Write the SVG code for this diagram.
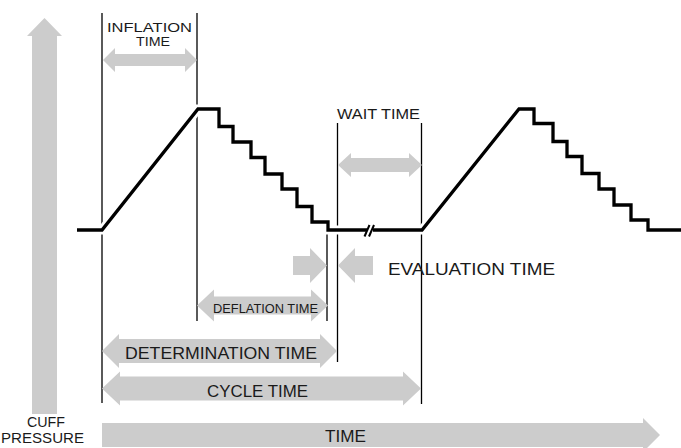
<svg xmlns="http://www.w3.org/2000/svg" width="681" height="448" viewBox="0 0 681 448">
<style>
.bar{fill:#cccccc;stroke:none}
.vl{stroke:#000;stroke-width:1.3;fill:none}
.halo{stroke:#fff;stroke-width:9;fill:none;stroke-linejoin:miter}
.sig{stroke:#000;stroke-width:3.3;fill:none;stroke-linejoin:miter;stroke-linecap:butt}
.brk{stroke:#000;stroke-width:2;fill:none}
text{font-family:"Liberation Sans",Arial,sans-serif;fill:#1a1a1a}
</style>
<rect width="681" height="448" fill="#fff"/>
<g id="axes">
  <polygon class="bar" points="32,414 32,36 27,36 44.5,18 62,36 57,36 57,414"/>
  <polygon class="bar" points="102,423 643,423 643,418 660,435 643,452 643,447 102,447"/>
  <text x="27" y="427" font-size="14" textLength="38" lengthAdjust="spacingAndGlyphs">CUFF</text>
  <text x="1" y="443" font-size="14" textLength="83" lengthAdjust="spacingAndGlyphs">PRESSURE</text>
  <text x="325" y="442" font-size="17" textLength="41" lengthAdjust="spacingAndGlyphs">TIME</text>
</g>
<g id="markers">
  <line class="vl" x1="102" y1="13" x2="102" y2="403"/>
  <line class="vl" x1="197" y1="13" x2="197" y2="321"/>
  <line class="vl" x1="327" y1="232" x2="327" y2="321"/>
  <line class="vl" x1="337.5" y1="123" x2="337.5" y2="362"/>
  <line class="vl" x1="421.5" y1="123" x2="421.5" y2="404"/>
</g>
<g id="inflation">
  <polygon class="bar" points="103,60 115,48 115,54 185,54 185,48 197,60 185,72 185,66 115,66 115,72"/>
  <text x="107" y="31.5" font-size="13.5" textLength="85" lengthAdjust="spacingAndGlyphs">INFLATION</text>
  <text x="136" y="46" font-size="13.5" textLength="34" lengthAdjust="spacingAndGlyphs">TIME</text>
</g>
<g id="wait">
  <polygon class="bar" points="338,165 351,153 351,158 409,158 409,153 422,165 409,177 409,172 351,172 351,177"/>
  <text x="337" y="119" font-size="15" textLength="83" lengthAdjust="spacingAndGlyphs">WAIT TIME</text>
</g>
<g id="evaluation">
  <polygon class="bar" points="293,256 310,256 310,248 327,265.5 310,283 310,275 293,275"/>
  <polygon class="bar" points="338,265.5 355,248 355,256 373,256 373,275 355,275 355,283"/>
  <text x="388" y="275" font-size="17" textLength="167" lengthAdjust="spacingAndGlyphs">EVALUATION TIME</text>
</g>
<g id="deflation">
  <polygon class="bar" points="197,305.5 214,289.5 214,296.5 311,296.5 311,289.5 328,305.5 311,321.5 311,314.5 214,314.5 214,321.5"/>
  <text x="213" y="313" font-size="13" textLength="105" lengthAdjust="spacingAndGlyphs">DEFLATION TIME</text>
</g>
<g id="determination">
  <polygon class="bar" points="102,351 119,334 119,339 320,339 320,334 337,351 320,368 320,363 119,363 119,368"/>
  <text x="125" y="359" font-size="17" textLength="192" lengthAdjust="spacingAndGlyphs">DETERMINATION TIME</text>
</g>
<g id="cycle">
  <polygon class="bar" points="102,388.5 120,371.5 120,376.5 403,376.5 403,371.5 421,388.5 403,405.5 403,400.5 120,400.5 120,405.5"/>
  <text x="207" y="397" font-size="17" textLength="101" lengthAdjust="spacingAndGlyphs">CYCLE TIME</text>
</g>
<g id="connectors">
  <path class="halo" d="M77,230 H102 L198,109 H219 V126.5 H233 V142 H251 V157.5 H265 V174 H282 V189 H297 V206.5 H312 V222 H328 V230 H367 M373,230 H422 L519,109 H534 V123.5 H553 V141.5 H567 V156.5 H582 V173.5 H599 V189 H614 V205 H631 V220 H648 V230 H681"/>
  <path class="sig" d="M77,230 H102 L198,109 H219 V126.5 H233 V142 H251 V157.5 H265 V174 H282 V189 H297 V206.5 H312 V222 H328 V230 H367 M373,230 H422 L519,109 H534 V123.5 H553 V141.5 H567 V156.5 H582 V173.5 H599 V189 H614 V205 H631 V220 H648 V230 H681"/>
  <line class="brk" x1="364.5" y1="236.5" x2="369.5" y2="225"/>
  <line class="brk" x1="369" y1="236.5" x2="374" y2="225"/>
</g>
</svg>
